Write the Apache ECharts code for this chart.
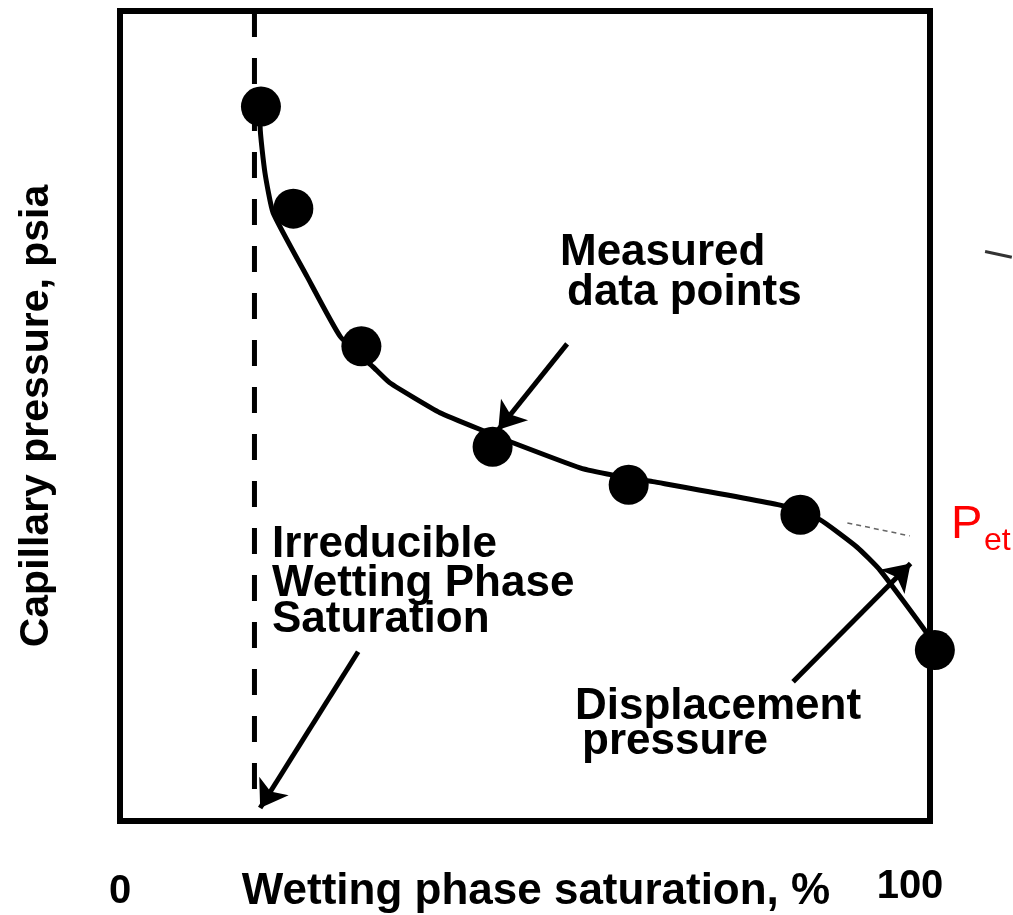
<!DOCTYPE html>
<html>
<head>
<meta charset="utf-8">
<script src="https://cdn.jsdelivr.net/npm/echarts@6/dist/echarts.min.js"></script>
<style>
  html, body { margin: 0; padding: 0; background: #ffffff; }
  #chart { width: 1013px; height: 915px; }
</style>
</head>
<body>
<div id="chart"></div>
<script>
// ---- data (x = wetting phase saturation %, y = relative capillary pressure) ----
const xTickLabels = [0, 100];
const measuredSw = [17.4, 21.4, 29.8, 46.0, 62.8, 84.0, 100.6];
const measuredPc = [88.2, 75.6, 58.6, 46.2, 41.5, 37.8, 21.1];
const curveSw = [17.4, 17.3, 17.9, 18.9, 23.1, 27.2, 31.2, 33.3, 39.5, 45.3, 48.5, 56.8, 60.9, 65.8, 81.5, 86.4, 91.0, 93.8, 99.6, 100.6];
const curvePc = [87.8, 85.7, 80.0, 75.1, 67.2, 59.8, 56.1, 54.1, 50.4, 48.0, 46.7, 43.6, 42.7, 41.9, 39.0, 37.2, 33.8, 31.0, 23.2, 21.1];
const irreducibleSw = [16.6, 16.6];
const irreduciblePc = [100, 3.6];
const tangentSw = [89.8, 97.5];
const tangentPc = [36.8, 35.2];
const arrowFromSw = [55.2, 29.4, 83.1];
const arrowFromPc = [58.9, 20.9, 17.2];
const arrowToSw = [46.7, 17.3, 97.6];
const arrowToPc = [48.3, 1.6, 31.8];
const smudgeSw = [106.8, 110.1];
const smudgePc = [70.3, 69.6];

const FONT = "'Liberation Sans', Arial, Helvetica, sans-serif";
const zip = (a, b) => a.map((v, i) => [v, b[i]]);

const chart = echarts.init(document.getElementById('chart'), null, { renderer: 'canvas' });

const option = {
  backgroundColor: '#ffffff',
  animation: false,
  grid: {
    left: 120, right: 83, top: 11, bottom: 94,
    containLabel: false, outerBoundsMode: 'none',
    show: true, borderColor: '#000', borderWidth: 6, backgroundColor: 'transparent'
  },
  xAxis: {
    type: 'value', min: 0, max: 100, interval: 100,
    axisLine: { show: false }, axisTick: { show: false }, splitLine: { show: false },
    axisLabel: {
      margin: 46,
      formatter: v => (v === xTickLabels[0] ? '{a|' + v + '}' : '{b|' + v + '}'),
      rich: {
        a: { fontFamily: FONT, fontSize: 40, fontWeight: 'bold', color: '#000', padding: [5, 0, 0, 0] },
        b: { fontFamily: FONT, fontSize: 40, fontWeight: 'bold', color: '#000', padding: [0, 40, 0, 0] }
      }
    },
    name: 'Wetting phase saturation, %',
    nameLocation: 'middle', nameGap: 49, nameMoveOverlap: false,
    nameTextStyle: { fontFamily: FONT, fontSize: 44, fontWeight: 'bold', color: '#000', padding: [0, 0, 0, 22] }
  },
  yAxis: {
    type: 'value', min: 0, max: 100, interval: 100,
    axisLine: { show: false }, axisTick: { show: false }, splitLine: { show: false },
    axisLabel: { show: false },
    name: 'Capillary pressure, psia',
    nameLocation: 'middle', nameGap: 63, nameMoveOverlap: false,
    nameTextStyle: { fontFamily: FONT, fontSize: 41, fontWeight: 'bold', color: '#000' }
  },
  series: [
    {
      type: 'line', name: 'irreducible', data: zip(irreducibleSw, irreduciblePc),
      symbol: 'none', clip: false, silent: true,
      lineStyle: { color: '#000', width: 5, type: [26, 21], dashOffset: 0 }, z: 2
    },
    {
      type: 'line', name: 'curve', data: zip(curveSw, curvePc),
      symbol: 'none', smooth: 0.15, clip: false, silent: true,
      lineStyle: { color: '#000', width: 5 }, z: 3
    },
    {
      type: 'line', name: 'tangent', data: zip(tangentSw, tangentPc),
      symbol: 'none', clip: false, silent: true,
      lineStyle: { color: '#666', width: 1.5, type: [5, 4] }, z: 3
    },
    {
      type: 'scatter', name: 'measured', data: zip(measuredSw, measuredPc),
      symbol: 'circle', symbolSize: 40, clip: false,
      itemStyle: { color: '#000', opacity: 1 }, z: 4
    },
    {
      type: 'lines', coordinateSystem: 'cartesian2d', name: 'arrows',
      data: arrowFromSw.map((v, i) => ({ coords: [[v, arrowFromPc[i]], [arrowToSw[i], arrowToPc[i]]] })),
      symbol: ['none', 'arrow'], symbolSize: 26, silent: true, clip: false,
      lineStyle: { color: '#000', width: 5, opacity: 1, curveness: 0 }, z: 5
    },
    {
      type: 'lines', coordinateSystem: 'cartesian2d', name: 'smudge',
      data: [{ coords: zip(smudgeSw, smudgePc) }],
      symbol: ['none', 'none'], silent: true, clip: false,
      lineStyle: { color: '#333', width: 3, opacity: 1, curveness: 0 }, z: 5
    }
  ],
  graphic: [
    { type: 'text', left: 560, top: 231, style: { text: 'Measured', font: "bold 44px " + FONT, fill: '#000' } },
    { type: 'text', left: 567, top: 271, style: { text: 'data points', font: "bold 44px " + FONT, fill: '#000' } },
    { type: 'text', left: 272, top: 523, style: { text: 'Irreducible', font: "bold 44px " + FONT, fill: '#000' } },
    { type: 'text', left: 272, top: 562, style: { text: 'Wetting Phase', font: "bold 44px " + FONT, fill: '#000' } },
    { type: 'text', left: 272, top: 598, style: { text: 'Saturation', font: "bold 44px " + FONT, fill: '#000' } },
    { type: 'text', left: 575, top: 685, style: { text: 'Displacement', font: "bold 44px " + FONT, fill: '#000' } },
    { type: 'text', left: 582, top: 720, style: { text: 'pressure', font: "bold 44px " + FONT, fill: '#000' } },
    { type: 'text', left: 951, top: 502, style: { text: 'P', font: "47px " + FONT, fill: '#ff0000' } },
    { type: 'text', left: 984, top: 525, style: { text: 'et', font: "32px " + FONT, fill: '#ff0000' } }
  ]
};
chart.setOption(option);
</script>
</body>
</html>
